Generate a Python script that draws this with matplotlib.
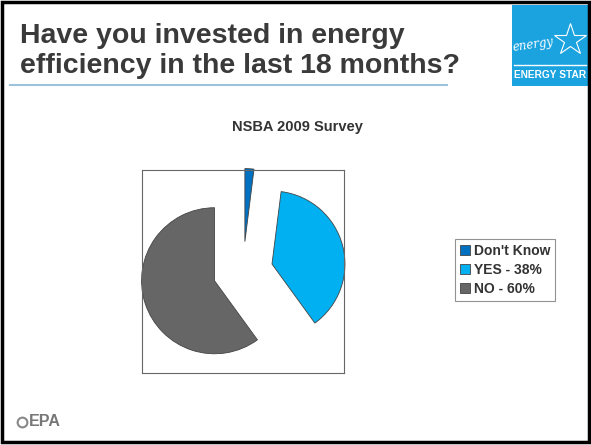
import matplotlib.pyplot as plt
from matplotlib.patches import Rectangle

# survey data
labels = ["Don't Know", "YES - 38%", "NO - 60%"]
values = [2, 38, 60]
colors = ["#0070C0", "#00B0F0", "#666666"]
explode = [0.41, 0.41, 0.41]

title_1 = "Have you invested in energy"
title_2 = "efficiency in the last 18 months?"
chart_title = "NSBA 2009 Survey"

plt.rcParams['font.family'] = ['Liberation Sans', 'DejaVu Sans']

fig = plt.figure(figsize=(5.91, 4.45), dpi=100, facecolor='white')

# background / slide decorations in pixel coords
bg = fig.add_axes([0, 0, 1, 1])
bg.set_xlim(0, 591)
bg.set_ylim(445, 0)
bg.axis('off')

bg.add_patch(Rectangle((1.5, 1.5), 587, 440, fill=False, ec='black', lw=2.5, zorder=10))
bg.text(20, 43, title_1, fontsize=20.5, fontweight='bold', color='#3a3a3a',
        va='baseline', ha='left')
bg.text(20, 73, title_2, fontsize=20.5, fontweight='bold', color='#3a3a3a',
        va='baseline', ha='left')
bg.plot([10, 447], [85, 85], color='#9DC3DC', lw=1.5)

# energy star logo
bg.add_patch(Rectangle((512, 5), 76, 81, fc='#1BA3E0', ec='none'))
bg.plot([514, 586], [65, 65], color='white', lw=1)
bg.text(533, 45, "energy", fontsize=8.5, style='italic', color='white',
        ha='center', va='center', family='DejaVu Serif', rotation=8)
bg.plot([570], [40], marker='*', ms=24, mfc='none', mec='white', mew=0.8)
bg.text(550, 75, "ENERGY STAR", fontsize=7.3, fontweight='bold', color='white',
        ha='center', va='center')

# epa logo
bg.plot([22], [422], marker='o', ms=7, mfc='none', mec='#888888', mew=1.5)
bg.text(29, 422, "EPA", fontsize=11.5, color='#777777', ha='left', va='center',
        fontweight='bold')

bg.text(297, 127, chart_title, fontsize=10.5, fontweight='bold', color='#333333',
        ha='center', va='center')

# pie
ax = fig.add_axes([142 / 591, 1 - 373 / 445, 202 / 591, 203 / 445])
wedges, _ = ax.pie(values, colors=colors, explode=explode, startangle=90,
                   counterclock=False,
                   wedgeprops=dict(edgecolor='#444444', linewidth=0.6))
ax.set_xlim(-1.384, 1.384)
ax.set_ylim(-1.39, 1.39)
ax.set_aspect('auto')
ax.set_xticks([])
ax.set_yticks([])
ax.set_frame_on(True)
for s in ax.spines.values():
    s.set_color('#666666')
    s.set_linewidth(0.8)

leg = fig.legend(wedges, labels, loc='center', bbox_to_anchor=(505 / 591, 1 - 270 / 445),
                 frameon=True, fancybox=False, edgecolor='#777777',
                 prop=dict(weight='bold', size=10), handlelength=0.7, handleheight=0.7,
                 handletextpad=0.3, labelspacing=0.35, borderpad=0.35,
                 borderaxespad=0)
leg.get_frame().set_linewidth(0.8)
for t in leg.get_texts():
    t.set_color('#333333')

fig.savefig('out.png', dpi=100, facecolor='white')
